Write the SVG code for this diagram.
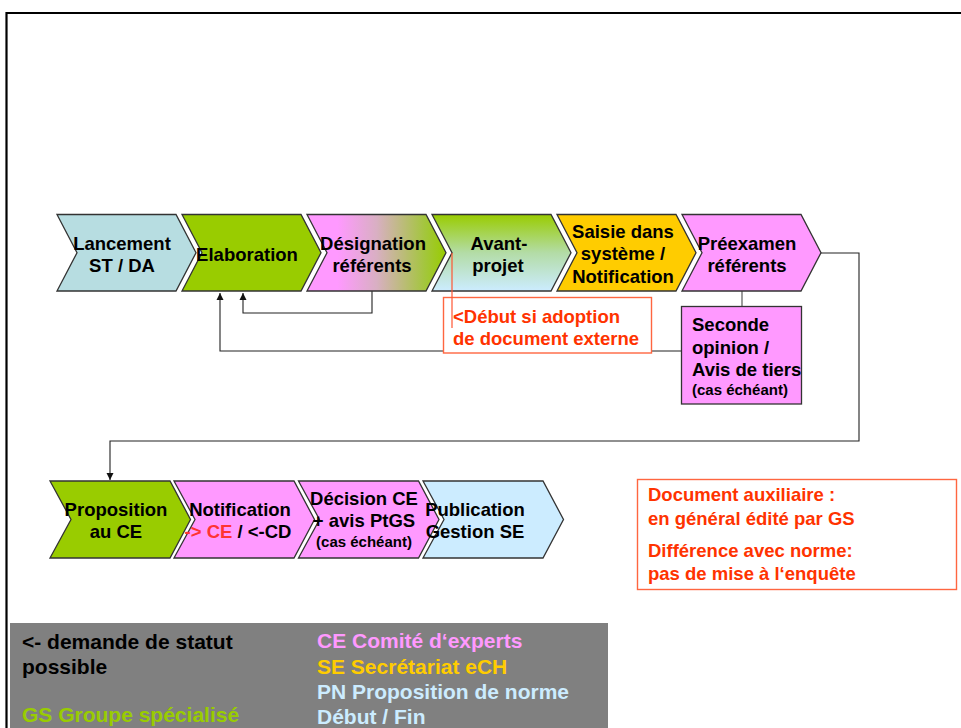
<svg xmlns="http://www.w3.org/2000/svg" width="961" height="728" viewBox="0 0 961 728">
<style>
.t{font-family:"Liberation Sans",Arial,sans-serif;font-weight:bold;font-size:18.5px;text-anchor:middle;fill:#000}
.s{font-size:15px}
.l{text-anchor:start}
.r{fill:#FF3300}
.g{font-family:"Liberation Sans",Arial,sans-serif;font-weight:bold;font-size:21px}
.ch{stroke:#333;stroke-width:1.3}
.cn{fill:none;stroke:#222;stroke-width:1.1}
.rb{fill:#fff;stroke:#FF6640;stroke-width:1.4}
</style>
<defs>
<linearGradient id="gDes" x1="0" y1="0" x2="1" y2="0">
<stop offset="0" stop-color="#FF99FF"/>
<stop offset="0.22" stop-color="#FF99FF"/>
<stop offset="0.5" stop-color="#D9AFC3"/>
<stop offset="0.85" stop-color="#A3C63C"/>
<stop offset="1" stop-color="#99CC00"/>
</linearGradient>
<linearGradient id="gAv" x1="0" y1="0" x2="0" y2="1">
<stop offset="0" stop-color="#99CC00"/>
<stop offset="0.5" stop-color="#B3DCA6"/>
<stop offset="1" stop-color="#CCECFF"/>
</linearGradient>
<marker id="ar" viewBox="0 0 10 10" refX="10" refY="5" markerWidth="7" markerHeight="9" markerUnits="userSpaceOnUse" orient="auto">
<path d="M0,0 L10,5 L0,10 Z" fill="#111"/>
</marker>
</defs>

<rect x="0" y="0" width="961" height="728" fill="#fff"/>
<path d="M6.5,728 L6.5,13 L961,13" fill="none" stroke="#000" stroke-width="2.2"/>

<g id="connectors">
<path class="cn" d="M372,291 L372,313 L243,313 L243,293" marker-end="url(#ar)"/>
<path class="cn" d="M681,351 L220,351 L220,293" marker-end="url(#ar)"/>
<path class="cn" d="M821,253 L859,253 L859,441 L110,441 L110,480" marker-end="url(#ar)"/>
<path d="M742,291 L742,306" fill="none" stroke="#666" stroke-width="1.3"/>
</g>

<g id="lancement">
<path class="ch" fill="#B7DDE1" d="M57,214.5 L176,214.5 L196,252.75 L176,291 L57,291 L77,252.75 Z"/>
<text class="t" x="122" y="249.5">Lancement</text>
<text class="t" x="122" y="271.5">ST / DA</text>
</g>
<g id="elaboration">
<path class="ch" fill="#99CC00" d="M182,214.5 L301,214.5 L321,252.75 L301,291 L182,291 L202,252.75 Z"/>
<text class="t" x="247" y="260.5">Elaboration</text>
</g>
<g id="designation">
<path class="ch" fill="url(#gDes)" d="M307,214.5 L426,214.5 L446,252.75 L426,291 L307,291 L327,252.75 Z"/>
<text class="t" x="373" y="249.5">Désignation</text>
<text class="t" x="372" y="271.5">référents</text>
</g>
<g id="avantprojet">
<path class="ch" fill="url(#gAv)" d="M432,214.5 L551,214.5 L571,252.75 L551,291 L432,291 L452,252.75 Z"/>
<text class="t" x="499" y="249.5">Avant-</text>
<text class="t" x="498" y="271.5">projet</text>
</g>
<g id="saisie">
<path class="ch" fill="#FFCC00" d="M557,214.5 L676,214.5 L696,252.75 L676,291 L557,291 L577,252.75 Z"/>
<text class="t" x="623" y="237.5">Saisie dans</text>
<text class="t" x="623" y="260">système /</text>
<text class="t" x="623" y="282.5">Notification</text>
</g>
<g id="preexamen">
<path class="ch" fill="#FF99FF" d="M682,214.5 L801,214.5 L821,252.75 L801,291 L682,291 L702,252.75 Z"/>
<text class="t" x="747" y="249.5">Préexamen</text>
<text class="t" x="747" y="271.5">référents</text>
</g>

<g id="seconde">
<rect x="681.5" y="306.5" width="120" height="97.5" fill="#FF99FF" stroke="#333" stroke-width="1.3"/>
<text class="t l" x="692" y="331">Seconde</text>
<text class="t l" x="692" y="353.5">opinion /</text>
<text class="t l" x="692" y="376">Avis de tiers</text>
<text class="t l s" x="692" y="395">(cas échéant)</text>
</g>

<g id="note-debut">
<rect class="rb" x="443.5" y="297.5" width="208" height="55.5"/>
<line x1="452" y1="253" x2="452" y2="328" stroke="#FF5533" stroke-width="1.2"/>
<text class="t l r" x="453" y="322.5">&lt;Début si adoption</text>
<text class="t l r" x="453" y="344.5">de document externe</text>
</g>

<g id="proposition">
<path class="ch" fill="#99CC00" d="M50,481 L170,481 L190.5,519.5 L170,558 L50,558 L71,519.5 Z"/>
<text class="t" x="116" y="515.5">Proposition</text>
<text class="t" x="116" y="538">au CE</text>
</g>
<g id="notification">
<path class="ch" fill="#FF99FF" d="M174,481 L294,481 L314.5,519.5 L294,558 L174,558 L195,519.5 Z"/>
<text class="t" x="240" y="515.5">Notification</text>
<text class="t" x="238" y="538"><tspan fill="#FF3333">-&gt; CE</tspan> / &lt;-CD</text>
</g>
<g id="decision">
<path class="ch" fill="#FF99FF" d="M298.5,481 L418.5,481 L439,519.5 L418.5,558 L298.5,558 L319.5,519.5 Z"/>
<text class="t" x="364" y="504.5">Décision CE</text>
<text class="t" x="364" y="526.5">+ avis PtGS</text>
<text class="t s" x="364" y="547">(cas échéant)</text>
</g>
<g id="publication">
<path class="ch" fill="#CCECFF" d="M423,481 L543,481 L563.5,519.5 L543,558 L423,558 L444,519.5 Z"/>
<text class="t" x="475" y="515.5">Publication</text>
<text class="t" x="475" y="538">Gestion SE</text>
</g>

<g id="note-aux">
<rect class="rb" x="637.5" y="479.5" width="319" height="110"/>
<text class="t l r" x="648" y="501">Document auxiliaire :</text>
<text class="t l r" x="648" y="524.5">en général édité par GS</text>
<text class="t l r" x="648" y="557">Différence avec norme:</text>
<text class="t l r" x="648" y="580">pas de mise à l‘enquête</text>
</g>

<g id="legend">
<rect x="10" y="623" width="598" height="105" fill="#808080"/>
<text class="g" x="22" y="649" fill="#000">&lt;- demande de statut</text>
<text class="g" x="22" y="674" fill="#000">possible</text>
<text class="g" x="22" y="722" fill="#99CC00">GS Groupe spécialisé</text>
<text class="g" x="317" y="648" fill="#FF99FF">CE Comité d‘experts</text>
<text class="g" x="317" y="673.5" fill="#FFCC00">SE Secrétariat eCH</text>
<text class="g" x="317" y="699" fill="#CCECFF">PN Proposition de norme</text>
<text class="g" x="317" y="723.5" fill="#CCECFF">Début / Fin</text>
</g>
</svg>
